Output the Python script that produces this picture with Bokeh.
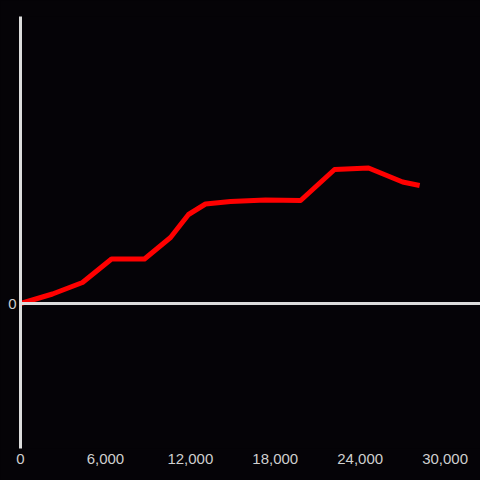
from bokeh.plotting import figure
from bokeh.models import Range1d, FixedTicker, NumeralTickFormatter, Span
from bokeh.embed import file_html
from bokeh.resources import INLINE

# data
x_values = [0, 2260, 4380, 6430, 8760, 10600, 11870, 13070, 14840, 17310, 19790, 22190, 24590, 27000, 28200]
y_values = [0, 9.5, 21, 44.5, 44.5, 66, 89, 99.5, 102, 103.5, 103, 134, 135.5, 121.5, 118]
x_ticks = [0, 6000, 12000, 18000, 24000, 30000]
y_ticks = [0]

BG = "#050307"
AX = "#dcdcdc"
LBL = "#cfcfcf"

p = figure(width=480, height=480, output_backend="svg", toolbar_location=None,
           x_range=Range1d(0, 32500), y_range=Range1d(-145, 287),
           min_border_left=20, min_border_right=0, min_border_top=16, min_border_bottom=32)
p.background_fill_color = BG
p.border_fill_color = BG
p.outline_line_color = None
p.grid.visible = False

p.add_layout(Span(location=0, dimension="width", line_color=AX, line_width=3))

p.line(x_values, y_values, line_color="#ff0000", line_width=5, line_join="round", line_cap="butt")

p.xaxis.ticker = FixedTicker(ticks=x_ticks)
p.xaxis.formatter = NumeralTickFormatter(format="0,0")
p.xaxis.axis_line_color = None
p.xaxis.major_tick_line_color = None
p.xaxis.minor_tick_line_color = None
p.xaxis.major_tick_out = 0
p.xaxis.major_label_standoff = 5
p.xaxis.major_label_text_font = "Liberation Sans"
p.xaxis.major_label_text_font_size = "15px"
p.xaxis.major_label_text_color = LBL

p.yaxis.ticker = FixedTicker(ticks=y_ticks)
p.yaxis.axis_line_color = AX
p.yaxis.axis_line_width = 3
p.yaxis.major_tick_line_color = None
p.yaxis.minor_tick_line_color = None
p.yaxis.major_tick_out = 0
p.yaxis.major_label_standoff = 4
p.yaxis.major_label_text_font = "Liberation Sans"
p.yaxis.major_label_text_font_size = "15px"
p.yaxis.major_label_text_color = LBL

html = file_html(p, INLINE)
html = html.replace("<head>", "<head><style>html,body{background:%s;}</style>" % BG, 1)
open("out.html", "w").write(html)
